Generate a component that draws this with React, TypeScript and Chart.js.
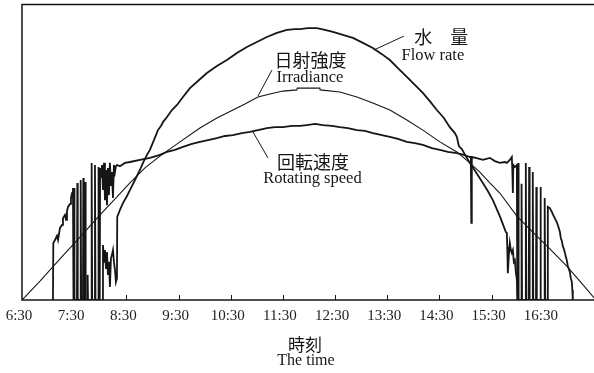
import React, { useEffect, useRef } from "react";
import { Chart, registerables } from "chart.js";

Chart.register(...registerables);

// x: minutes since midnight, y: relative level (0-100)
const TIME_TICKS = [390, 450, 510, 570, 630, 690, 750, 810, 870, 930, 990];
const TICK_LABELS = ["6:30", "7:30", "8:30", "9:30", "10:30", "11:30", "12:30", "13:30", "14:30", "15:30", "16:30"];

// 水量 Flow rate
const FLOW_T = [482.0, 483.1, 484.3, 485.4, 486.6, 487.7, 488.8, 490.0, 491.1, 492.3, 493.4, 494.6, 495.7, 496.9, 498.0, 499.2, 499.5, 502.6, 506.1, 510.7, 514.1, 519.9, 525.6, 529.1, 533.7, 537.1, 541.7, 546.3, 549.8, 552.1, 556.7, 562.4, 568.2, 575.1, 583.1, 592.3, 602.6, 614.1, 625.6, 637.1, 648.6, 660.1, 671.6, 683.1, 694.6, 703.8, 709.5, 718.7, 729.1, 738.3, 747.5, 759.0, 770.5, 782.0, 793.4, 803.8, 813.0, 822.2, 832.5, 841.7, 850.9, 858.9, 867.0, 875.1, 881.9, 887.7, 890.0, 892.3, 895.7, 900.3, 904.9, 911.8, 919.9, 925.6, 931.4, 939.4, 942.9, 946.3, 947.5, 948.0, 948.6, 949.8, 950.9, 952.1, 953.2, 954.4, 955.5, 956.7, 957.8, 959.0, 960.1];
const FLOW_V = [0, 18.6, 12.9, 16.9, 10.8, 16.2, 8.5, 12.9, 4.4, 14.2, 15.2, 16.9, 12.9, 10.2, 6.1, 7.4, 28.1, 30.5, 32.8, 35.2, 37.2, 40.6, 44.0, 46.4, 49.1, 50.8, 54.1, 57.5, 58.9, 60.2, 61.9, 64.3, 66.0, 68.7, 71.7, 74.1, 76.8, 79.2, 81.2, 83.6, 85.6, 87.3, 89.0, 90.4, 91.4, 91.7, 91.7, 92.0, 92.0, 91.4, 90.7, 89.7, 88.7, 87.0, 85.3, 83.2, 81.2, 78.5, 75.5, 72.8, 70.1, 67.3, 64.3, 61.6, 58.5, 56.5, 55.2, 52.1, 51.1, 48.7, 46.4, 43.3, 39.6, 36.9, 33.8, 28.4, 25.7, 23.0, 22.7, 17.9, 9.1, 15.2, 19.3, 16.9, 15.9, 16.9, 12.9, 13.5, 9.5, 6.8, 0];

// 日射強度 Irradiance
const IRR_T = [390, 410.7, 433.7, 456.7, 479.7, 499.2, 514.1, 531.4, 548.6, 571.6, 594.6, 614.1, 632.5, 646.3, 661.3, 675.1, 690.0, 706.1, 706.4, 732.5, 732.8, 755.5, 775.1, 793.4, 813.0, 832.5, 850.9, 870.5, 890.0, 904.9, 916.4, 927.9, 939.4, 959.0, 977.3, 996.9, 1016.4, 1031.4, 1050];
const IRR_V = [0, 6.4, 13.9, 21.3, 28.8, 34.9, 39.6, 44.7, 48.7, 53.5, 58.2, 61.6, 64.3, 66.3, 68.7, 69.7, 70.7, 71.1, 71.7, 71.7, 71.1, 70.4, 68.7, 66.7, 64.3, 60.9, 57.5, 53.5, 50.1, 46.4, 43.3, 39.6, 36.2, 28.4, 23.0, 17.3, 11.5, 6.4, 0];

// 回転速度 Rotating speed
const ROT_T = [425.6, 426.0, 427.9, 430.2, 431.4, 433.7, 436.0, 437.1, 439.4, 440.6, 441.7, 442.9, 445.2, 446.3, 447.5, 448.6, 449.2, 449.8, 450.3, 453.2, 453.6, 454.1, 457.1, 457.5, 458.0, 460.1, 460.5, 461.0, 462.4, 462.6, 463.2, 465.3, 465.5, 465.9, 469.8, 470.1, 470.7, 473.6, 473.9, 474.5, 477.4, 477.7, 478.3, 479.4, 479.8, 480.8, 482.0, 483.1, 484.3, 485.4, 486.6, 487.7, 488.8, 490.0, 491.1, 492.3, 493.4, 494.6, 495.7, 496.9, 498.0, 499.2, 502.6, 508.4, 514.1, 525.6, 537.1, 548.6, 556.7, 565.9, 575.1, 585.4, 594.6, 603.8, 614.1, 623.3, 632.5, 642.9, 652.1, 661.3, 671.6, 680.8, 690.0, 700.3, 709.5, 717.6, 726.8, 736.0, 746.3, 755.5, 764.7, 775.1, 784.3, 793.4, 803.8, 813.0, 822.2, 832.5, 841.7, 850.9, 861.3, 870.5, 879.6, 890.0, 898.0, 904.9, 906.1, 906.6, 907.2, 911.8, 919.9, 927.9, 933.7, 939.4, 945.2, 947.5, 950.9, 953.2, 953.8, 954.4, 954.9, 956.7, 959.0, 959.5, 960.5, 961.0, 964.2, 964.4, 965.0, 969.1, 969.3, 969.9, 972.7, 973.1, 973.7, 977.0, 977.3, 977.9, 981.0, 981.4, 981.9, 985.8, 986.1, 986.7, 990.7, 991.0, 991.6, 994.2, 994.6, 996.9, 999.2, 1000.3, 1002.6, 1004.9, 1007.2, 1008.5, 1009.5, 1010.7, 1011.8, 1013.0, 1014.1, 1015.3, 1016.4, 1017.6, 1018.8, 1019.9, 1021.0, 1022.2, 1022.8, 1023.3];
const ROT_V = [0, 19.3, 20.3, 21.7, 20.3, 24.4, 25.4, 27.7, 28.8, 27.1, 30.1, 31.5, 32.5, 34.5, 36.2, 37.9, 0, 37.9, 0, 0, 39.6, 0, 0, 40.6, 0, 0, 41.3, 0, 0, 39.9, 0, 0, 8.5, 0, 0, 46.4, 0, 0, 45.7, 0, 0, 45.0, 0, 0, 44.7, 41.3, 45.7, 37.2, 46.4, 33.8, 44.0, 32.1, 44.7, 35.5, 46.4, 38.6, 43.3, 34.5, 45.7, 43.3, 45.3, 45.7, 45.3, 46.4, 46.7, 47.4, 48.1, 49.1, 50.1, 50.8, 51.8, 52.8, 53.5, 54.1, 54.8, 55.5, 55.8, 56.5, 56.9, 57.5, 58.2, 58.5, 58.5, 58.9, 58.9, 59.2, 59.6, 59.2, 58.9, 58.5, 58.2, 57.5, 57.2, 56.5, 55.8, 55.2, 54.5, 53.5, 53.1, 52.5, 51.4, 50.8, 50.1, 49.7, 49.1, 48.4, 48.4, 26.1, 48.4, 48.1, 47.4, 48.1, 47.0, 46.4, 46.7, 46.4, 47.4, 48.4, 44.0, 36.2, 45.7, 45.0, 45.7, 0, 46.4, 0, 0, 39.3, 0, 0, 46.4, 0, 0, 45.0, 0, 0, 43.3, 0, 0, 38.2, 0, 0, 38.2, 0, 0, 34.5, 0, 0, 31.5, 31.1, 29.8, 29.1, 27.7, 26.4, 24.4, 23.0, 21.0, 20.0, 18.3, 17.3, 16.2, 14.6, 13.5, 11.5, 10.5, 9.5, 7.4, 6.1, 3.4, 0];

// Series annotations (text anchor in data units) and leader lines
const SERIES_LABELS = [
  { jp: "水\u3000量", en: "Flow rate", jpX: 872.2, jpY: 88.8, enX: 862.4, enY: 81.2, line: [829.1, 89.3, 794.6, 84.6] },
  { jp: "日射強度", en: "Irradiance", jpX: 721.6, jpY: 81.2, enX: 721.0, enY: 73.8, line: [677.4, 77.8, 661.3, 69.0] },
  { jp: "回転速度", en: "Rotating speed", jpX: 724.5, jpY: 46.7, enX: 723.9, enY: 39.6, line: [672.8, 48.1, 655.5, 56.9] },
];
const X_TITLE_JP = "時刻";
const X_TITLE_EN = "The time";

const pts = (t: number[], v: number[]) => t.map((x, i) => ({ x, y: v[i] }));

const SERIF = '"Liberation Serif", "Times New Roman", serif';
const CJK = '"Noto Sans CJK JP", sans-serif';

const decorPlugin = {
  id: "decor",
  afterDatasetsDraw(chart: any) {
    const { ctx, chartArea, scales } = chart;
    const xs = scales.x;
    const ys = scales.y;
    ctx.save();
    // frame
    ctx.strokeStyle = "#161616";
    ctx.lineWidth = 1.5;
    ctx.strokeRect(chartArea.left, chartArea.top, chartArea.right - chartArea.left, chartArea.bottom - chartArea.top);
    // inner tick marks
    ctx.lineWidth = 1;
    TIME_TICKS.forEach((v, i) => {
      if (i === 0) return;
      const px = Math.round(xs.getPixelForValue(v)) + 0.5;
      ctx.beginPath();
      ctx.moveTo(px, chartArea.bottom);
      ctx.lineTo(px, chartArea.bottom - 5);
      ctx.stroke();
    });
    // series labels
    ctx.fillStyle = "#161616";
    ctx.textAlign = "center";
    SERIES_LABELS.forEach((s) => {
      ctx.font = `400 18px ${CJK}`;
      ctx.textBaseline = "middle";
      ctx.fillText(s.jp, xs.getPixelForValue(s.jpX), ys.getPixelForValue(s.jpY));
      ctx.font = `400 16.5px ${SERIF}`;
      ctx.textBaseline = "alphabetic";
      ctx.fillText(s.en, xs.getPixelForValue(s.enX), ys.getPixelForValue(s.enY));
      ctx.lineWidth = 1;
      ctx.beginPath();
      ctx.moveTo(xs.getPixelForValue(s.line[0]), ys.getPixelForValue(s.line[1]));
      ctx.lineTo(xs.getPixelForValue(s.line[2]), ys.getPixelForValue(s.line[3]));
      ctx.stroke();
    });
    // axis title
    const cx = (chartArea.left + chartArea.right) / 2 - 4;
    ctx.font = `400 17px ${CJK}`;
    ctx.textBaseline = "middle";
    ctx.fillText(X_TITLE_JP, cx, chartArea.bottom + 44.5);
    ctx.font = `400 16px ${SERIF}`;
    ctx.textBaseline = "alphabetic";
    ctx.fillText(X_TITLE_EN, cx + 1, chartArea.bottom + 65);
    ctx.restore();
  },
};

export default function App() {
  const ref = useRef<HTMLCanvasElement>(null);
  useEffect(() => {
    if (!ref.current) return;
    const line = (data: any[], w: number) => ({
      data,
      borderColor: "#161616",
      borderWidth: w,
      pointRadius: 0,
      tension: 0,
      fill: false,
    });
    const chart = new Chart(ref.current, {
      type: "line",
      data: {
        datasets: [
          { label: "水量", ...line(pts(FLOW_T, FLOW_V), 1.8) },
          { label: "日射強度", ...line(pts(IRR_T, IRR_V), 1.1) },
          { label: "回転速度", ...line(pts(ROT_T, ROT_V), 1.8) },
        ],
      },
      options: {
        animation: false,
        responsive: false,
        devicePixelRatio: 1,
        layout: { padding: { left: 22, right: 4, top: 4.5, bottom: 0 } },
        plugins: { legend: { display: false }, tooltip: { enabled: false } },
        scales: {
          x: {
            type: "linear",
            min: 390,
            max: 1050,
            afterBuildTicks: (s: any) => {
              s.ticks = TIME_TICKS.map((value) => ({ value }));
            },
            afterFit: (s: any) => {
              s.height = 73;
            },
            grid: { display: false, drawTicks: false },
            border: { display: false },
            ticks: {
              autoSkip: false,
              maxRotation: 0,
              padding: 7,
              labelOffset: -3,
              color: "#222",
              font: { family: SERIF, size: 15 },
              callback: (_v: any, i: number) => TICK_LABELS[i],
            },
          },
          y: { display: false, min: 0, max: 100 },
        },
      } as any,
      plugins: [decorPlugin],
    });
    return () => chart.destroy();
  }, []);
  return (
    <div style={{ position: "fixed", left: 0, top: 0, width: 594, height: 373, overflow: "hidden", background: "#fff" }}>
      <canvas ref={ref} width={600} height={373} style={{ display: "block", width: 600, height: 373 }} />
    </div>
  );
}
